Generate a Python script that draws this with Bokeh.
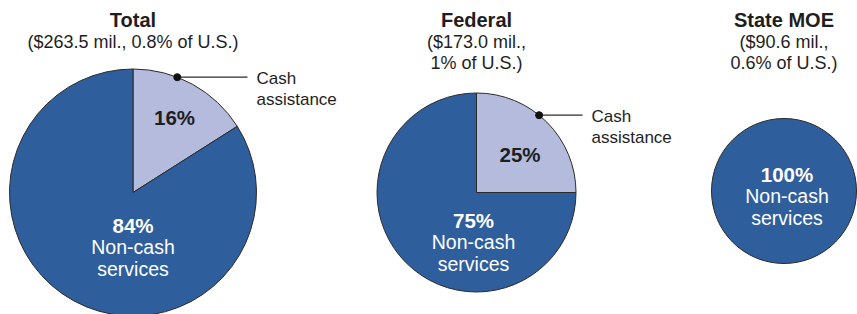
import math
from bokeh.plotting import figure
from bokeh.models import Range1d
from bokeh.core.properties import value
from bokeh.embed import file_html
from bokeh.resources import INLINE

# ---- data ----
groups = ["Total", "Federal", "State MOE"]
subtitles = [["($263.5 mil., 0.8% of U.S.)"], ["($173.0 mil.,", "1% of U.S.)"], ["($90.6 mil.,", "0.6% of U.S.)"]]
cash_share = [16, 25, 0]          # percent
noncash_share = [84, 75, 100]     # percent
cash_label = ["Cash", "assistance"]
noncash_label = ["Non-cash", "services"]

# ---- layout (screen-like pixel coordinates) ----
W, H = 857, 314
FONT = "Liberation Sans"
DARK = "#2f5e9c"
LIGHT = "#b4bbdd"
EDGE = "#2b2b2b"
TXT = "#1e1e1e"

cx = [132.5, 476.0, 783.5]
cy = [192.0, 192.0, 190.5]
rad = [123.5, 99.5, 72.5]
dot_angle = [69, 51, None]

def Y(ys):  # screen y -> data y
    return H - ys

p = figure(width=W, height=H, output_backend="svg", toolbar_location=None,
           x_range=Range1d(0, W), y_range=Range1d(0, H),
           min_border=0, outline_line_color=None)
p.axis.visible = False
p.grid.visible = False
p.background_fill_color = "white"
p.border_fill_color = "white"

for i, g in enumerate(groups):
    c = cash_share[i] / 100.0
    x0, y0, r = cx[i], Y(cy[i]), rad[i]
    if c > 0:
        a_cash_end = 90 - 360 * c
        p.wedge(x=[x0], y=[y0], radius=r, start_angle=[90], end_angle=[a_cash_end],
                start_angle_units="deg", end_angle_units="deg", direction="clock",
                fill_color=LIGHT, line_color=EDGE, line_width=1)
        p.wedge(x=[x0], y=[y0], radius=r, start_angle=[a_cash_end], end_angle=[-270],
                start_angle_units="deg", end_angle_units="deg", direction="clock",
                fill_color=DARK, line_color=EDGE, line_width=1)
    else:
        p.circle(x=[x0], y=[y0], radius=r, fill_color=DARK, line_color=EDGE, line_width=1)

    # titles
    p.text(x=[x0], y=[Y(19)], text=[g], text_font=value(FONT), text_font_style="bold",
           text_font_size="20px", text_align="center", text_baseline="middle", text_color=TXT)
    for k, s in enumerate(subtitles[i]):
        p.text(x=[x0], y=[Y(41 + 21 * k)], text=[s], text_font=value(FONT),
               text_font_size="18px", text_align="center", text_baseline="middle", text_color=TXT)

# inner labels
pct_pos = [(174, 117), (519.5, 153.5)]
for i in range(3):
    x0 = cx[i]
    if cash_share[i] > 0:
        px, py = pct_pos[i]
        p.text(x=[px], y=[Y(py)], text=[f"{cash_share[i]}%"], text_font=value(FONT),
               text_font_style="bold", text_font_size="20.5px", text_align="center",
               text_baseline="middle", text_color=TXT)
    base = [225, 220, 174][i]
    xo = x0 + [0, -3, 3][i]
    p.text(x=[xo], y=[Y(base)], text=[f"{noncash_share[i]}%"], text_font=value(FONT),
           text_font_style="bold", text_font_size="20.5px", text_align="center",
           text_baseline="middle", text_color="white")
    for k, s in enumerate(noncash_label):
        p.text(x=[xo], y=[Y(base + 21.5 * (k + 1))], text=[s], text_font=value(FONT),
               text_font_size="19.5px", text_align="center", text_baseline="middle", text_color="white")

# leader lines for cash assistance
line_end = [247, 582]
for i in range(2):
    a = math.radians(dot_angle[i])
    dx = cx[i] + rad[i] * math.cos(a)
    dy = Y(cy[i]) + rad[i] * math.sin(a)
    p.segment(x0=[dx], y0=[dy], x1=[line_end[i]], y1=[dy], line_color=EDGE, line_width=1.2)
    p.scatter(x=[dx], y=[dy], size=7, marker="circle", fill_color="#111111", line_color="#111111")
    for k, s in enumerate(cash_label):
        p.text(x=[line_end[i] + 9], y=[dy - 21 * k - 1], text=[s], text_font=value(FONT),
               text_font_size="17px", text_align="left", text_baseline="middle", text_color=TXT)

open("out.html", "w").write(file_html(p, INLINE))
